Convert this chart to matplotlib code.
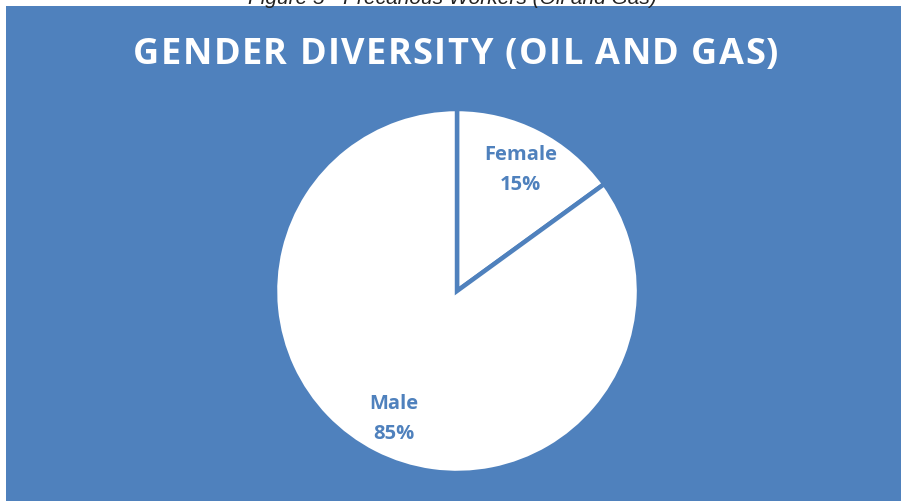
import matplotlib.pyplot as plt
from matplotlib.patches import Rectangle
import numpy as np

# Workforce split by gender
categories = ['Female', 'Male']
shares = [15, 85]

blue = '#4F81BD'
W, H = 901, 501

fig = plt.figure(figsize=(W / 100, H / 100), dpi=100, facecolor='white')

# chart area background
fig.patches.append(Rectangle((6 / W, 0), 1 - 6 / W, 495 / H, transform=fig.transFigure,
                             facecolor=blue, edgecolor='none', zorder=-1))

# caption from the page above, mostly cropped off
fig.text(452 / W, 1 - 4.5 / H, 'Figure 5 - Precarious Workers (Oil and Gas)',
         ha='center', va='baseline', fontsize=15, style='italic',
         family='Liberation Sans', color='#222222')


def spaced_title(s, xc, y, tracking, **kw):
    # draw character by character so the title gets extra letter spacing
    renderer = fig.canvas.get_renderer()
    widths = []
    for ch in s:
        t = fig.text(0, 0, ch.replace(' ', '-'), **kw)
        widths.append(t.get_window_extent(renderer).width if ch != ' ' else
                      t.get_window_extent(renderer).width * 0.8)
        t.remove()
    total = sum(widths) + tracking * (len(s) - 1)
    x = xc - total / 2
    for ch, w in zip(s, widths):
        fig.text(x / W, y / H, ch, ha='left', va='center', **kw)
        x += w + tracking


spaced_title('GENDER DIVERSITY (OIL AND GAS)', 456, H - 55, 1.45,
             fontsize=26, fontweight='bold', family='Open Sans', color='white')

r = 182
cx, cy = 457, 291
ax = fig.add_axes([(cx - r) / W, (H - cy - r) / H, 2 * r / W, 2 * r / H])
ax.set_facecolor('none')
wedges, _ = ax.pie(shares, startangle=90, counterclock=False, radius=1,
                   colors=['white', 'white'],
                   wedgeprops=dict(edgecolor=blue, linewidth=3.2))
for w in wedges:
    w.set_clip_on(False)
ax.set_xlim(-1, 1)
ax.set_ylim(-1, 1)
ax.axis('off')

# labels sit at the wedge mid-angle, nudged a few pixels down
angle = 90
for name, val in zip(categories, shares):
    mid = np.deg2rad(angle - val * 3.6 / 2)
    angle -= val * 3.6
    ax.text(0.77 * np.cos(mid), 0.77 * np.sin(mid) - 3.5 / r, f'{name}\n{val}%',
            ha='center', va='center', fontsize=14.5, fontweight='bold',
            family='Open Sans', color=blue, linespacing=1.65)

fig.savefig('out.png', dpi=100, facecolor='white')
